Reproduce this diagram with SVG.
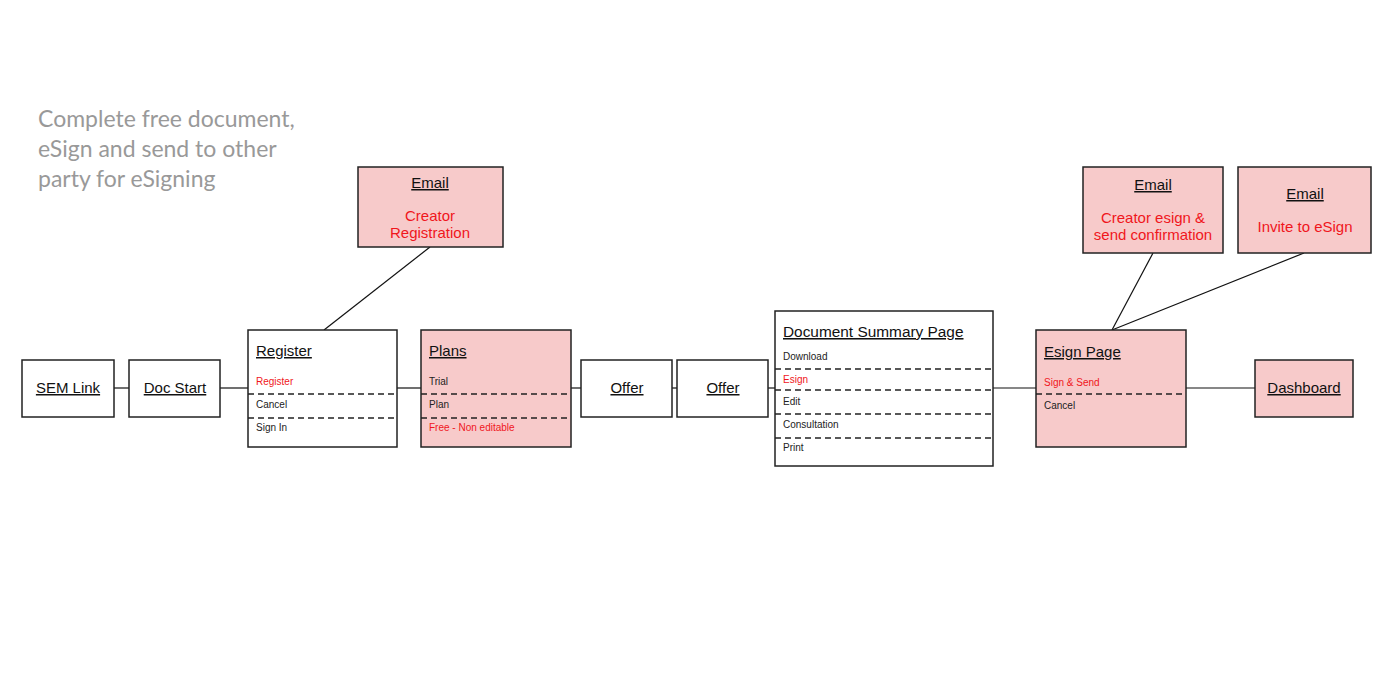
<svg xmlns="http://www.w3.org/2000/svg" width="1400" height="700" viewBox="0 0 1400 700">
<style>
.box{fill:#fff;stroke:#222;stroke-width:1.5}
.pink{fill:#f7caca;stroke:#222;stroke-width:1.5}
.t{font-family:"Liberation Sans",Arial,sans-serif;font-size:15px;fill:#111;text-decoration:underline}
.tc{text-anchor:middle}
.i{font-family:"Liberation Sans",Arial,sans-serif;font-size:10px;fill:#222}
.r{fill:#f0161c}
.e{font-family:"Liberation Sans",Arial,sans-serif;font-size:15px;fill:#f0161c;text-anchor:middle}
.d{stroke:#222;stroke-width:1.5;stroke-dasharray:6,4;fill:none}
.c{stroke:#111;stroke-width:1.2;fill:none}
.h{font-family:Lato,"Open Sans",sans-serif;font-size:23px;fill:#999}
</style>
<rect width="1400" height="700" fill="#fff"/>
<g id="heading">
<text class="h" x="38" y="127">Complete free document,</text>
<text class="h" x="38" y="157">eSign and send to other</text>
<text class="h" x="38" y="187">party for eSigning</text>
</g>
<g id="connectors">
<line class="c" x1="114" y1="388" x2="129" y2="388"/>
<line class="c" x1="220" y1="388" x2="248" y2="388"/>
<line class="c" x1="397" y1="388" x2="421" y2="388"/>
<line class="c" x1="571" y1="388" x2="581" y2="388"/>
<line class="c" x1="672" y1="388" x2="677" y2="388"/>
<line class="c" x1="768" y1="388" x2="775" y2="388"/>
<line class="c" x1="993" y1="388" x2="1036" y2="388"/>
<line class="c" x1="1186" y1="388" x2="1255" y2="388"/>
<line class="c" x1="430" y1="247" x2="324" y2="330"/>
<line class="c" x1="1153" y1="253" x2="1112" y2="330"/>
<line class="c" x1="1304" y1="253" x2="1112" y2="330"/>
</g>
<g id="sem-link">
<rect class="box" x="22" y="360" width="92" height="57"/>
<text class="t tc" x="68" y="393">SEM Link</text>
</g>
<g id="doc-start">
<rect class="box" x="129" y="360" width="91" height="57"/>
<text class="t tc" x="175" y="393">Doc Start</text>
</g>
<g id="register">
<rect class="box" x="248" y="330" width="149" height="117"/>
<text class="t" x="256" y="356">Register</text>
<text class="i r" x="256" y="385">Register</text>
<line class="d" x1="248" y1="394" x2="397" y2="394"/>
<text class="i" x="256" y="408">Cancel</text>
<line class="d" x1="248" y1="418" x2="397" y2="418"/>
<text class="i" x="256" y="431">Sign In</text>
</g>
<g id="plans">
<rect class="pink" x="421" y="330" width="150" height="117"/>
<text class="t" x="429" y="356">Plans</text>
<text class="i" x="429" y="385">Trial</text>
<line class="d" x1="421" y1="394" x2="571" y2="394"/>
<text class="i" x="429" y="408">Plan</text>
<line class="d" x1="421" y1="418" x2="571" y2="418"/>
<text class="i r" x="429" y="431">Free - Non editable</text>
</g>
<g id="offer1">
<rect class="box" x="581" y="360" width="91" height="57"/>
<text class="t tc" x="627" y="393">Offer</text>
</g>
<g id="offer2">
<rect class="box" x="677" y="360" width="91" height="57"/>
<text class="t tc" x="723" y="393">Offer</text>
</g>
<g id="doc-summary">
<rect class="box" x="775" y="311" width="218" height="155"/>
<text class="t" x="783" y="337" style="font-size:15.4px">Document Summary Page</text>
<text class="i" x="783" y="360">Download</text>
<line class="d" x1="775" y1="369" x2="993" y2="369"/>
<text class="i r" x="783" y="383">Esign</text>
<line class="d" x1="775" y1="390" x2="993" y2="390"/>
<text class="i" x="783" y="405">Edit</text>
<line class="d" x1="775" y1="414" x2="993" y2="414"/>
<text class="i" x="783" y="428">Consultation</text>
<line class="d" x1="775" y1="438" x2="993" y2="438"/>
<text class="i" x="783" y="451">Print</text>
</g>
<g id="esign-page">
<rect class="pink" x="1036" y="330" width="150" height="117"/>
<text class="t" x="1044" y="357">Esign Page</text>
<text class="i r" x="1044" y="386">Sign &amp; Send</text>
<line class="d" x1="1036" y1="394" x2="1186" y2="394"/>
<text class="i" x="1044" y="409">Cancel</text>
</g>
<g id="dashboard">
<rect class="pink" x="1255" y="360" width="98" height="57"/>
<text class="t tc" x="1304" y="393">Dashboard</text>
</g>
<g id="email-registration">
<rect class="pink" x="358" y="167" width="145" height="80"/>
<text class="t tc" x="430" y="188">Email</text>
<text class="e" x="430" y="221">Creator</text>
<text class="e" x="430" y="238">Registration</text>
</g>
<g id="email-confirmation">
<rect class="pink" x="1083" y="167" width="140" height="86"/>
<text class="t tc" x="1153" y="190">Email</text>
<text class="e" x="1153" y="223">Creator esign &amp;</text>
<text class="e" x="1153" y="240">send confirmation</text>
</g>
<g id="email-invite">
<rect class="pink" x="1238" y="167" width="133" height="86"/>
<text class="t tc" x="1305" y="199">Email</text>
<text class="e" x="1305" y="232">Invite to eSign</text>
</g>
</svg>
